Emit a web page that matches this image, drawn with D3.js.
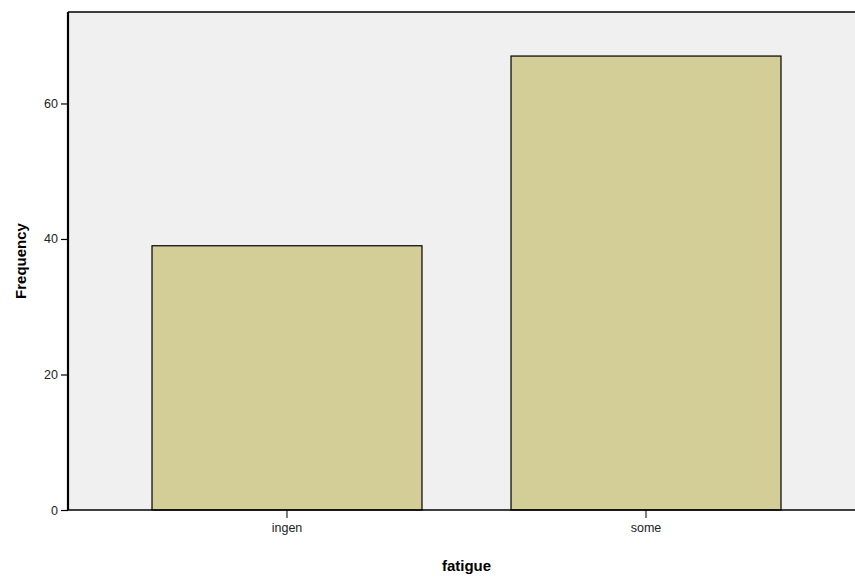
<!DOCTYPE html>
<html><head><meta charset="utf-8">
<script src="https://cdn.jsdelivr.net/npm/d3@7"></script>
<style>body{margin:0;background:#fff;}svg{display:block;}</style>
</head><body><svg id="c" width="855" height="579"></svg>
<script>
const categories = ["ingen", "some"];
const frequencies = [39, 67];
const yTicks = [0, 20, 40, 60];

(function () {
const svg = d3.select("#c");
const W = 855, H = 579;
const mLeft = 68, mTop = 12, mBottom = 510, mRight = 865;

const x = d3.scaleBand().domain(categories).range([mLeft, mRight]).paddingInner(0.248).paddingOuter(0.234);
const y = d3.scaleLinear().domain([0, 73.5]).range([mBottom, mTop]);

// plot background
svg.append("rect").attr("x", mLeft).attr("y", mTop).attr("width", mRight - mLeft).attr("height", mBottom - mTop)
  .attr("fill", "#f0f0f0");

// bars
svg.append("g").selectAll("rect").data(frequencies).join("rect")
  .attr("x", (d, i) => x(categories[i]))
  .attr("y", d => y(d))
  .attr("width", x.bandwidth())
  .attr("height", d => y(0) - y(d))
  .attr("fill", "#d3ce98")
  .attr("stroke", "#000").attr("stroke-width", 1.2);

// frame top
svg.append("line").attr("x1", mLeft).attr("x2", W).attr("y1", mTop).attr("y2", mTop)
  .attr("stroke", "#000").attr("stroke-width", 1.5);

// y axis
const ya = svg.append("g").attr("transform", `translate(${mLeft},0)`)
  .call(d3.axisLeft(y).tickValues(yTicks).tickSize(7).tickPadding(3).tickSizeOuter(0));
ya.select(".domain").attr("stroke-width", 2.2).attr("d", `M0,${mBottom}V${mTop}`);
ya.selectAll("text").attr("font-family", "Liberation Sans, Arial, sans-serif").attr("font-size", 12.5).attr("fill", "#222");
ya.selectAll(".tick line").attr("stroke-width", 1.2);

// x axis
const xa = svg.append("g").attr("transform", `translate(0,${mBottom})`)
  .call(d3.axisBottom(x).tickSize(8).tickPadding(5).tickSizeOuter(0));
xa.select(".domain").attr("stroke-width", 1.5).attr("d", `M${mLeft},0H${W}`);
xa.selectAll("text").attr("font-family", "Liberation Sans, Arial, sans-serif").attr("font-size", 12.5).attr("fill", "#222");

// axis titles
svg.append("text").attr("x", (mLeft + mRight) / 2).attr("y", 571).attr("text-anchor", "middle")
  .attr("font-family", "Liberation Sans, Arial, sans-serif").attr("font-weight", "bold").attr("font-size", 15)
  .text("fatigue");
svg.append("text").attr("transform", `translate(26,${(mTop + mBottom) / 2}) rotate(-90)`).attr("text-anchor", "middle")
  .attr("font-family", "Liberation Sans, Arial, sans-serif").attr("font-weight", "bold").attr("font-size", 15)
  .text("Frequency");
})();
</script></body></html>
